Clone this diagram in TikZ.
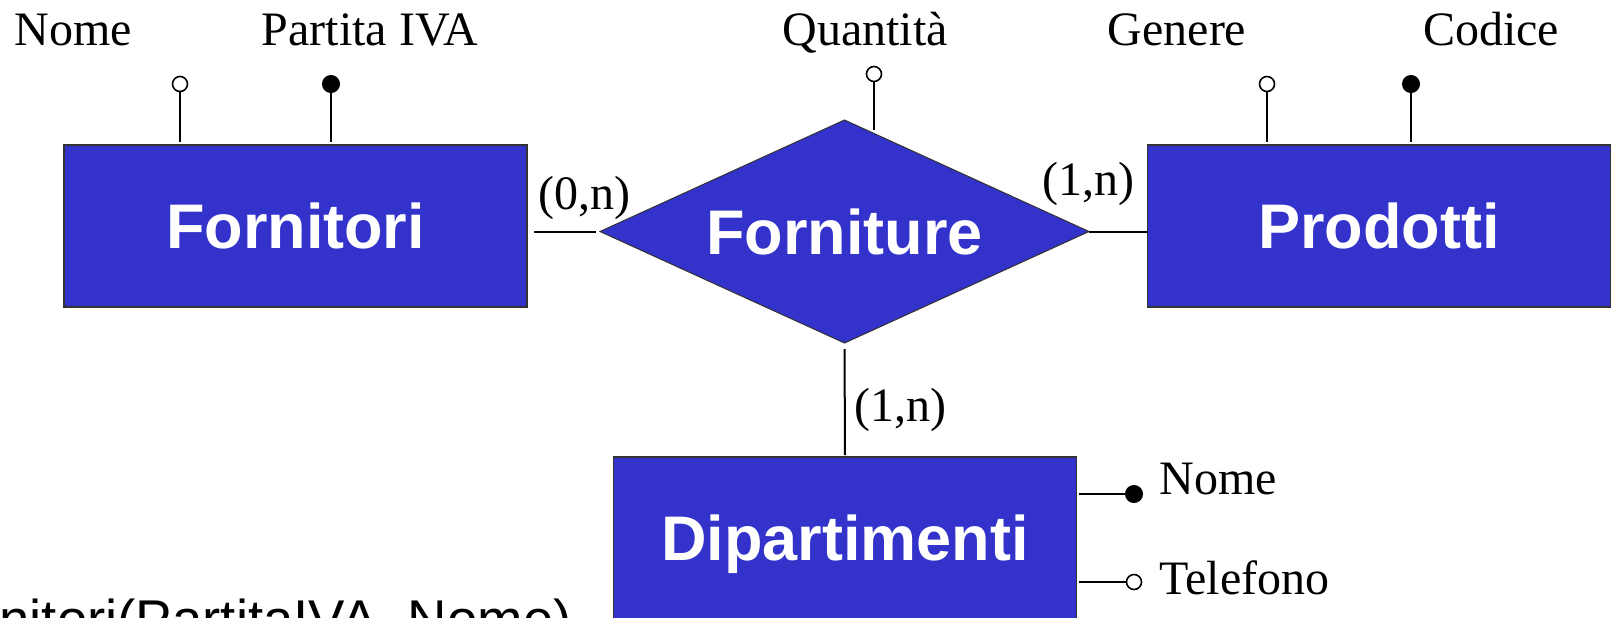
\documentclass[tikz,border=0pt]{standalone}
\usepackage{fontspec}
\setmainfont{Liberation Serif}
\setsansfont{Liberation Sans}
\usetikzlibrary{positioning, shapes.geometric}

\definecolor{entityblue}{RGB}{51,51,204}
\definecolor{edgegray}{RGB}{50,50,50}

\tikzset{
  entity/.style={rectangle, draw=edgegray, line width=0.8pt, fill=entityblue,
    text=white, font=\fontsize{31.5}{36}\selectfont\sffamily\bfseries,
    minimum width=231.5pt, minimum height=81pt, inner sep=0pt, outer sep=0pt,
    text depth=0pt},
  relation/.style={diamond, draw=edgegray, line width=0.5pt, fill=entityblue,
    text=white, font=\fontsize{31.5}{36}\selectfont\sffamily\bfseries,
    minimum width=244.5pt, minimum height=111.5pt, aspect=2.19,
    inner sep=0pt, outer sep=0pt},
  link/.style={line width=1pt},
  keyattr/.style={circle, draw, fill=black, line width=0.5pt, inner sep=0pt,
    minimum size=8.5pt},
  optattr/.style={circle, draw, fill=white, line width=0.8pt, inner sep=0pt,
    minimum size=7.5pt},
  attrlabel/.style={font=\fontsize{24}{28}\selectfont, inner sep=0pt},
}

\begin{document}
\begin{tikzpicture}[x=0.5pt, y=-0.5pt]
\useasboundingbox (0,0) rectangle (1611,617);
\clip (0,0) rectangle (1611,617);

% --- Entities and relationship ---
\node[entity] (Fornitori) at (295.5,226) {Fornitori};
\node[entity] (Prodotti) at (1379,226) {Prodotti};
\node[entity] (Dipartimenti) at (845,538) {Dipartimenti};
\node[relation] (Forniture) at (844.5,231.5) {Forniture};

% --- Links ---
\draw[link, shorten <=3.5pt, shorten >=2pt] (Fornitori.east |- Forniture.west) -- (Forniture.west);
\draw[link] (Forniture.east) -- (Prodotti.west |- Forniture.east);
\draw[link, shorten <=3pt, shorten >=1pt] (Forniture.south) -- (Dipartimenti.north);

% --- Cardinalities ---
\node[attrlabel, anchor=base] (cardFornitori) at (584,209) {(0,n)};
\node[attrlabel, anchor=base] (cardProdotti) at (1088,195) {(1,n)};
\node[attrlabel, anchor=base] (cardDipartimenti) at (900,421) {(1,n)};

% --- Attributes of Fornitori ---
\node[optattr] (fNome) at (180,84) {};
\node[keyattr] (fPiva) at (331,84) {};
\draw[link] (fNome) -- ([yshift=1.5pt]Fornitori.north -| fNome);
\draw[link] (fPiva) -- ([yshift=1.5pt]Fornitori.north -| fPiva);
\node[attrlabel, anchor=base] (fNomeLab) at (73,45) {Nome};
\node[attrlabel, anchor=base] (fPivaLab) at (370,45) {Partita IVA};

% --- Attribute of Forniture ---
\node[optattr] (qta) at (874,74) {};
\coordinate (qtaEnd) at (874,130);
\draw[link] (qta) -- (qtaEnd);
\node[attrlabel, anchor=base] (qtaLab) at (865,45) {Quantità};

% --- Attributes of Prodotti ---
\node[optattr] (pGenere) at (1267,84) {};
\node[keyattr] (pCodice) at (1411,84) {};
\draw[link] (pGenere) -- ([yshift=1.5pt]Prodotti.north -| pGenere);
\draw[link] (pCodice) -- ([yshift=1.5pt]Prodotti.north -| pCodice);
\node[attrlabel, anchor=base] (pGenereLab) at (1177,45) {Genere};
\node[attrlabel, anchor=base] (pCodiceLab) at (1491,45) {Codice};

% --- Attributes of Dipartimenti ---
\node[keyattr] (dNome) at (1134,494) {};
\node[optattr] (dTel) at (1134,582) {};
\draw[link] ([xshift=1pt]Dipartimenti.east |- dNome) -- (dNome);
\draw[link] ([xshift=1pt]Dipartimenti.east |- dTel) -- (dTel);
\node[attrlabel, anchor=base west] (dNomeLab) at (1159,494) {Nome};
\node[attrlabel, anchor=base west] (dTelLab) at (1159,594) {Telefono};

% --- Relational schema (cut off) ---
\node[font=\fontsize{27.3}{30}\selectfont\sffamily, anchor=base west, inner sep=0pt]
  (schema) at (-1,638) {nitori(PartitaIVA, Nome)};

\end{tikzpicture}
\end{document}
